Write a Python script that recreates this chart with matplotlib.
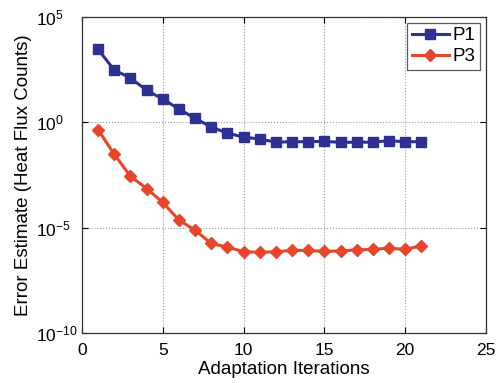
import numpy as np
import matplotlib
matplotlib.use("Agg")
import matplotlib.pyplot as plt

plt.rcParams['font.family'] = ['Liberation Sans', 'DejaVu Sans']
plt.rcParams['mathtext.fontset'] = 'custom'
plt.rcParams['mathtext.rm'] = 'Liberation Sans'

iterations = list(range(1, 22))
# log10 of the error estimates
p1_log = [3.46, 2.48, 2.11, 1.52, 1.11, 0.63, 0.19, -0.22, -0.51, -0.70, -0.79,
          -0.94, -0.92, -0.92, -0.90, -0.95, -0.94, -0.94, -0.87, -0.92, -0.92]
p3_log = [-0.35, -1.52, -2.56, -3.14, -3.80, -4.64, -5.12, -5.75, -5.92, -6.14, -6.17,
          -6.14, -6.08, -6.08, -6.13, -6.10, -6.05, -6.03, -5.97, -6.03, -5.86]
p1 = [10 ** v for v in p1_log]
p3 = [10 ** v for v in p3_log]

xticks = [0, 5, 10, 15, 20, 25]
yticks = [1e-10, 1e-5, 1e0, 1e5]

blue = '#2E3192'
red = '#E4472C'

fig = plt.figure(figsize=(5.0, 3.83), dpi=100)
ax = fig.add_axes([0.164, 0.1305, 0.808, 0.825])

ax.semilogy(iterations, p1, '-s', color=blue, lw=2.2, ms=6.5, mfc=blue, mec=blue, label='P1')
ax.semilogy(iterations, p3, '-D', color=red, lw=2.2, ms=6.5, mfc=red, mec=red, label='P3')

ax.set_xlim(0, 25)
ax.set_ylim(1e-10, 1e5)
ax.set_xticks(xticks)
ax.set_yticks(yticks)
ax.yaxis.set_minor_locator(matplotlib.ticker.NullLocator())
ax.tick_params(direction='in', length=4, labelsize=12.5, top=True, right=True)
ax.tick_params(axis='x', pad=7)
ax.tick_params(axis='y', pad=33)
for lbl in ax.get_yticklabels():
    lbl.set_horizontalalignment('left')
ax.grid(True, which='major', linestyle=':', color='#999999', lw=0.8)

ax.set_xlabel('Adaptation Iterations', fontsize=13.5, labelpad=2)
ax.set_ylabel('Error Estimate (Heat Flux Counts)', fontsize=13.5, labelpad=3)

leg = ax.legend(loc='upper right', fontsize=13.5, handlelength=2.0, borderpad=0.25,
                labelspacing=0.2, handletextpad=0.2, borderaxespad=0.3, fancybox=False)
leg.get_frame().set_edgecolor('#333333')
leg.get_frame().set_linewidth(0.9)

for s in ax.spines.values():
    s.set_color('#333333')
    s.set_linewidth(0.9)

fig.savefig('out.png', dpi=100)
